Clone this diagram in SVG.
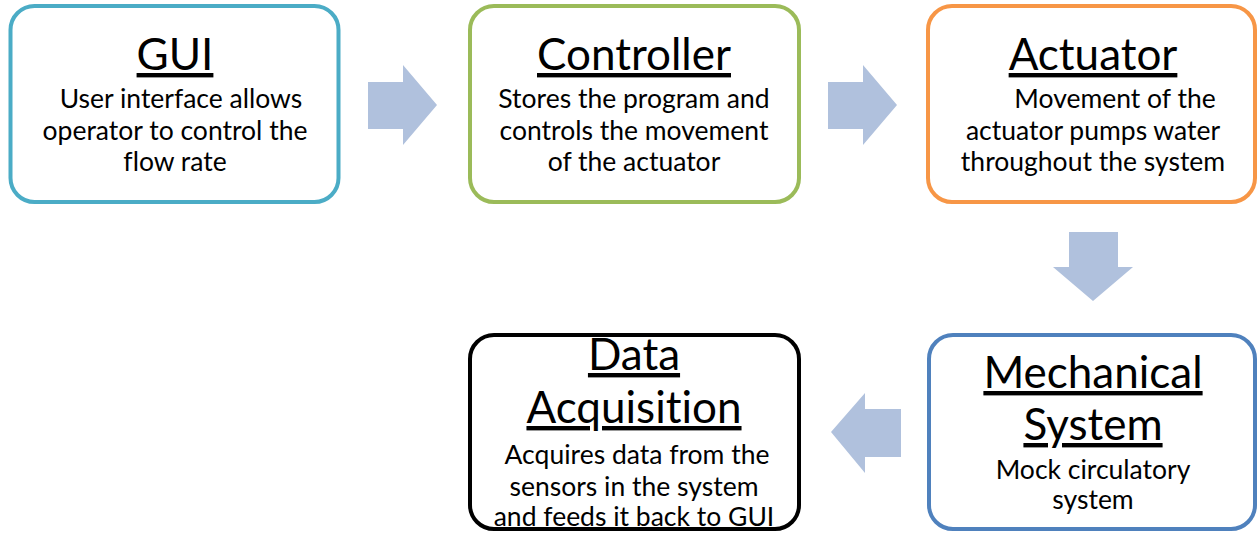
<svg xmlns="http://www.w3.org/2000/svg" width="1257" height="533" viewBox="0 0 1257 533">
<style>
.box{fill:#fff;stroke-width:4}
.t{font-family:Lato,"Liberation Sans",sans-serif;font-size:44px;fill:#000;text-anchor:middle;text-decoration:underline;font-variant-ligatures:none}
.b{font-family:Lato,"Liberation Sans",sans-serif;font-size:26.5px;fill:#000;text-anchor:middle;font-variant-ligatures:none}
.arr{fill:#B0C1DD}
</style>
<rect width="1257" height="533" fill="#fff"/>
<g id="connectors">
<polygon class="arr" points="368,82 403,82 403,65 437,105 403,145 403,129 368,129"/>
<polygon class="arr" points="828,82 863,82 863,65 897,105 863,145 863,129 828,129"/>
<polygon class="arr" points="1069,232 1118,232 1118,267 1133,267 1093,301 1053,267 1069,267"/>
<polygon class="arr" points="901,409 865,409 865,393 831,432 865,473 865,457 901,457"/>
</g>
<g id="gui">
<rect class="box" x="10.5" y="6" width="328" height="196" rx="24" stroke="#4BACC6"/>
<text class="t" x="175" y="70">GUI</text>
<text class="b" x="181" y="108">User interface allows</text>
<text class="b" x="175" y="140">operator to control the</text>
<text class="b" x="175" y="171">flow rate</text>
</g>
<g id="controller">
<rect class="box" x="470" y="6" width="329" height="196" rx="24" stroke="#9BBB59"/>
<text class="t" x="634" y="70">Controller</text>
<text class="b" x="634" y="108">Stores the program and</text>
<text class="b" x="634" y="140">controls the movement</text>
<text class="b" x="634" y="171">of the actuator</text>
</g>
<g id="actuator">
<rect class="box" x="928" y="6" width="327" height="196" rx="24" stroke="#F79646"/>
<text class="t" x="1093" y="70">Actuator</text>
<text class="b" x="1115" y="108">Movement of the</text>
<text class="b" x="1093" y="140">actuator pumps water</text>
<text class="b" x="1093" y="171">throughout the system</text>
</g>
<g id="mechanical">
<rect class="box" x="929" y="335" width="326" height="194" rx="24" stroke="#4F81BD"/>
<text class="t" x="1093" y="388">Mechanical</text>
<text class="t" x="1093" y="440">System</text>
<text class="b" x="1093" y="479">Mock circulatory</text>
<text class="b" x="1093" y="509">system</text>
</g>
<g id="data">
<rect class="box" x="470" y="335" width="329" height="194" rx="24" stroke="#000"/>
<text class="t" x="634" y="370">Data</text>
<text class="t" x="634" y="423">Acquisition</text>
<text class="b" x="637" y="464">Acquires data from the</text>
<text class="b" x="634" y="496">sensors in the system</text>
<text class="b" x="634" y="526">and feeds it back to GUI</text>
</g>
</svg>
